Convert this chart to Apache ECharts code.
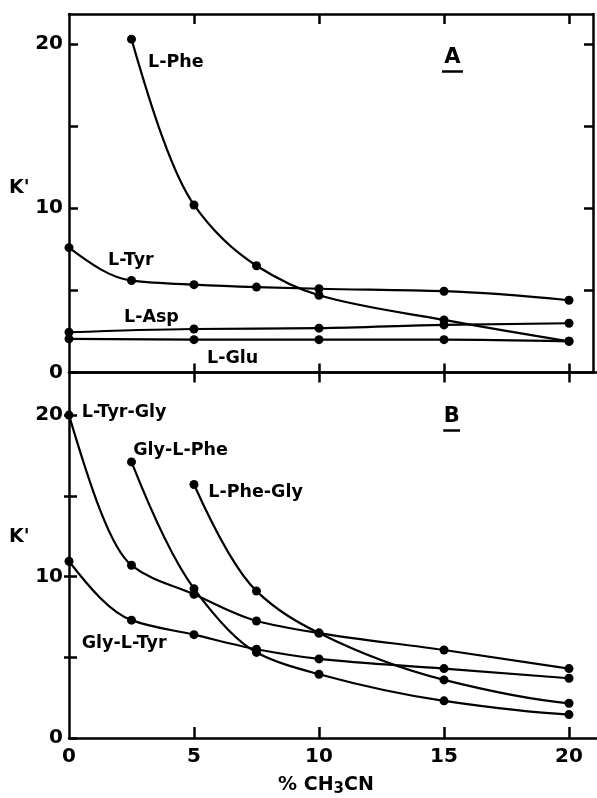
<!DOCTYPE html>
<html>
<head>
<meta charset="utf-8">
<script src="https://cdn.jsdelivr.net/npm/echarts@6/dist/echarts.min.js"></script>
<style>
  html, body { margin: 0; padding: 0; background: #fff; }
  #chart { width: 597px; height: 798px; }
</style>
</head>
<body>
<div id="chart"></div>
<script>
// Acetonitrile content (% CH3CN) at which k' was measured
const acnSteps = [0, 2.5, 5, 7.5, 10, 15, 20];
const acnFive = [0, 5, 10, 15, 20];

// Panel A: free amino acids
const lPheAcn = [2.5, 5, 7.5, 10, 15, 20];
const lPheK = [20.3, 10.2, 6.5, 4.7, 3.2, 1.9];
const lTyrK = [7.6, 5.6, 5.35, 5.2, 5.1, 4.95, 4.4];   // at acnSteps
const lAspK = [2.45, 2.65, 2.7, 2.9, 3.0];             // at acnFive
const lGluK = [2.05, 2.0, 2.0, 2.0, 1.9];              // at acnFive

// Panel B: dipeptides
const tyrGlyAcn = [0, 2.5, 5, 7.5, 10, 15, 20];
const tyrGlyK = [20.0, 10.7, 8.9, 7.25, 6.5, 5.45, 4.3];
const glyPheAcn = [2.5, 5, 7.5, 10, 15, 20];
const glyPheK = [17.1, 9.25, 5.3, 3.95, 2.3, 1.45];
const pheGlyAcn = [5, 7.5, 10, 15, 20];
const pheGlyK = [15.7, 9.1, 6.5, 3.6, 2.15];
const glyTyrAcn = [0, 2.5, 5, 7.5, 10, 15, 20];
const glyTyrK = [10.95, 7.3, 6.4, 5.5, 4.9, 4.3, 3.7];

// Axis ticks and labels
const xTickVals = [5, 10, 15, 20];
const xLabelVals = [0, 5, 10, 15, 20];
const yTickVals = [0, 5, 10, 15, 20];
const yLabelVals = [0, 10, 20];

const FONT = 'DejaVu Sans';
const INK = '#000';

const zip = (xs, ys) => xs.map((x, i) => [x, ys[i]]);

// Shape-preserving (PCHIP) tangents, so the drawn curves decay smoothly
// through every measured point without overshoot.
function pchipSlopes(xs, ys) {
  const n = xs.length, h = [], d = [];
  for (let i = 0; i < n - 1; i++) {
    h[i] = xs[i + 1] - xs[i];
    d[i] = (ys[i + 1] - ys[i]) / h[i];
  }
  const m = new Array(n);
  if (n === 2) { m[0] = m[1] = d[0]; return m; }
  for (let k = 1; k < n - 1; k++) {
    if (d[k - 1] * d[k] <= 0) { m[k] = 0; continue; }
    const w1 = 2 * h[k] + h[k - 1], w2 = h[k] + 2 * h[k - 1];
    m[k] = (w1 + w2) / (w1 / d[k - 1] + w2 / d[k]);
  }
  const endSlope = (h0, h1, d0, d1) => {
    let s = ((2 * h0 + h1) * d0 - h0 * d1) / (h0 + h1);
    if (Math.sign(s) !== Math.sign(d0)) s = 0;
    else if (Math.sign(d0) !== Math.sign(d1) && Math.abs(s) > Math.abs(3 * d0)) s = 3 * d0;
    return s;
  };
  m[0] = endSlope(h[0], h[1], d[0], d[1]);
  m[n - 1] = endSlope(h[n - 2], h[n - 3], d[n - 2], d[n - 3]);
  return m;
}

// One smooth curve through the points, drawn in the axes' own coordinates
function curveSeries(xs, ys, xi, yi) {
  const m = pchipSlopes(xs, ys);
  return {
    type: 'custom', xAxisIndex: xi, yAxisIndex: yi, silent: true, z: 2,
    data: zip(xs, ys),
    renderItem(params, api) {
      if (params.dataIndex !== 0) return null;
      const p = (x, y) => api.coord([x, y]);
      let s = p(xs[0], ys[0]);
      let path = 'M' + s[0] + ' ' + s[1];
      for (let i = 0; i < xs.length - 1; i++) {
        const h = xs[i + 1] - xs[i];
        const c1 = p(xs[i] + h / 3, ys[i] + m[i] * h / 3);
        const c2 = p(xs[i + 1] - h / 3, ys[i + 1] - m[i + 1] * h / 3);
        const e = p(xs[i + 1], ys[i + 1]);
        path += ' C' + c1[0] + ' ' + c1[1] + ' ' + c2[0] + ' ' + c2[1] + ' ' + e[0] + ' ' + e[1];
      }
      return {
        type: 'path',
        shape: { pathData: path },
        style: { stroke: INK, lineWidth: 2.2, fill: null }
      };
    }
  };
}

// Measured points, with the curve's name anchored in data coordinates
function dotSeries(name, xs, ys, xi, yi, tagText, tagAt) {
  return {
    name, type: 'scatter', xAxisIndex: xi, yAxisIndex: yi, z: 3,
    data: zip(xs, ys), symbol: 'circle', symbolSize: 9,
    itemStyle: { color: INK, opacity: 1 }, emphasis: { disabled: true }, silent: true,
    markPoint: {
      symbol: 'circle', symbolSize: 0, silent: true,
      label: {
        show: true, position: 'right', distance: 0, formatter: tagText,
        color: INK, fontFamily: FONT, fontSize: 17.5, fontWeight: 'bold'
      },
      data: [{ coord: tagAt }]
    }
  };
}

// Underlined panel letter
function panelLetter(text, at, lineY, lineX, xi, yi) {
  return {
    type: 'scatter', xAxisIndex: xi, yAxisIndex: yi, data: [], silent: true,
    markPoint: {
      symbol: 'circle', symbolSize: 0, silent: true,
      label: {
        show: true, position: 'inside', formatter: text,
        color: INK, fontFamily: FONT, fontSize: 21, fontWeight: 'bold'
      },
      data: [{ coord: at }]
    },
    markLine: {
      silent: true, symbol: ['none', 'none'],
      lineStyle: { color: INK, width: 2.5, type: 'solid' },
      label: { show: false },
      data: [[{ coord: [lineX[0], lineY] }, { coord: [lineX[1], lineY] }]]
    }
  };
}

const axisLine = { show: true, onZero: false, lineStyle: { color: INK, width: 2.5 } };
const tickStyle = { color: INK, width: 2.5 };
const labelStyle = { color: INK, fontFamily: FONT, fontSize: 20, fontWeight: 'bold' };
const titleStyle = { fill: INK, font: 'bold 19px "DejaVu Sans"' };

const option = {
  animation: false,
  backgroundColor: '#fff',
  grid: [
    { left: 69, top: 14, width: 524, height: 358.5 },
    { left: 69, top: 372.5, width: 528, height: 372.5 }
  ],
  // k' titles beside each panel's vertical axis
  graphic: [
    { type: 'text', left: 9, top: 179, style: Object.assign({ text: "K'" }, titleStyle) },
    { type: 'text', left: 9, top: 528, style: Object.assign({ text: "K'" }, titleStyle) }
  ],
  xAxis: [
    { gridIndex: 0, type: 'value', position: 'bottom', min: 0, max: 20.96,
      axisLine, splitLine: { show: false },
      axisTick: { show: true, inside: true, length: 9, lineStyle: tickStyle, customValues: xTickVals },
      axisLabel: { show: false } },
    { gridIndex: 0, type: 'value', position: 'top', min: 0, max: 20.96,
      axisLine, splitLine: { show: false },
      axisTick: { show: true, inside: true, length: 10, lineStyle: tickStyle, customValues: xTickVals },
      axisLabel: { show: false } },
    { gridIndex: 1, type: 'value', position: 'top', min: 0, max: 21.12,
      axisLine, splitLine: { show: false },
      axisTick: { show: true, inside: true, length: 10, lineStyle: tickStyle, customValues: xTickVals },
      axisLabel: { show: false } },
    { gridIndex: 1, type: 'value', position: 'bottom', min: 0, max: 21.12,
      axisLine, splitLine: { show: false },
      axisTick: { show: true, inside: true, length: 11, lineStyle: tickStyle, customValues: xTickVals },
      axisLabel: Object.assign({ show: true, margin: 9, customValues: xLabelVals }, labelStyle),
      name: '% CH{sub|3}CN', nameLocation: 'middle', nameGap: 36,
      nameTextStyle: {
        color: INK, fontFamily: FONT, fontSize: 19, fontWeight: 'bold', padding: [0, 14, 0, 0],
        rich: { sub: { fontFamily: FONT, fontSize: 15, fontWeight: 'bold', color: INK, padding: [8, 0, 0, 0] } }
      } }
  ],
  yAxis: [
    { gridIndex: 0, type: 'value', position: 'left', min: 0, max: 21.83,
      axisLine, splitLine: { show: false },
      axisTick: { show: true, inside: true, length: 9, lineStyle: tickStyle, customValues: yTickVals },
      axisLabel: Object.assign({ show: true, margin: 6, customValues: yLabelVals }, labelStyle) },
    { gridIndex: 0, type: 'value', position: 'right', min: 0, max: 21.83,
      axisLine, splitLine: { show: false },
      axisTick: { show: true, inside: true, length: 9, lineStyle: tickStyle, customValues: xTickVals },
      axisLabel: { show: false } },
    { gridIndex: 1, type: 'value', position: 'left', min: 0, max: 22.64,
      axisLine, splitLine: { show: false },
      axisTick: { show: true, inside: true, length: 8, lineStyle: tickStyle, customValues: yTickVals },
      axisLabel: Object.assign({ show: true, margin: 6, customValues: yLabelVals }, labelStyle) },
    { gridIndex: 1, type: 'value', position: 'right', min: 0, max: 22.64,
      axisLine: { show: false }, splitLine: { show: false },
      axisTick: { show: true, inside: true, length: 5, lineStyle: tickStyle, customValues: xTickVals },
      axisLabel: { show: false } }
  ],
  series: [
    // Panel A
    curveSeries(lPheAcn, lPheK, 0, 0),
    dotSeries('L-Phe', lPheAcn, lPheK, 0, 0, 'L-Phe', [3.16, 18.9]),
    curveSeries(acnSteps, lTyrK, 0, 0),
    dotSeries('L-Tyr', acnSteps, lTyrK, 0, 0, 'L-Tyr', [1.56, 6.85]),
    curveSeries(acnFive, lAspK, 0, 0),
    dotSeries('L-Asp', acnFive, lAspK, 0, 0, 'L-Asp', [2.2, 3.35]),
    curveSeries(acnFive, lGluK, 0, 0),
    dotSeries('L-Glu', acnFive, lGluK, 0, 0, 'L-Glu', [5.52, 0.88]),
    panelLetter('A', [15.34, 19.2], 18.35, [14.92, 15.76], 0, 0),
    // Panel B
    curveSeries(tyrGlyAcn, tyrGlyK, 3, 2),
    dotSeries('L-Tyr-Gly', tyrGlyAcn, tyrGlyK, 3, 2, 'L-Tyr-Gly', [0.51, 20.16]),
    curveSeries(glyPheAcn, glyPheK, 3, 2),
    dotSeries('Gly-L-Phe', glyPheAcn, glyPheK, 3, 2, 'Gly-L-Phe', [2.57, 17.83]),
    curveSeries(pheGlyAcn, pheGlyK, 3, 2),
    dotSeries('L-Phe-Gly', pheGlyAcn, pheGlyK, 3, 2, 'L-Phe-Gly', [5.57, 15.2]),
    curveSeries(glyTyrAcn, glyTyrK, 3, 2),
    dotSeries('Gly-L-Tyr', glyTyrAcn, glyTyrK, 3, 2, 'Gly-L-Tyr', [0.51, 5.88]),
    panelLetter('B', [15.31, 19.9], 19.05, [14.97, 15.64], 3, 2)
  ]
};

const chart = echarts.init(document.getElementById('chart'), null, { renderer: 'canvas' });
chart.setOption(option);
</script>
</body>
</html>
